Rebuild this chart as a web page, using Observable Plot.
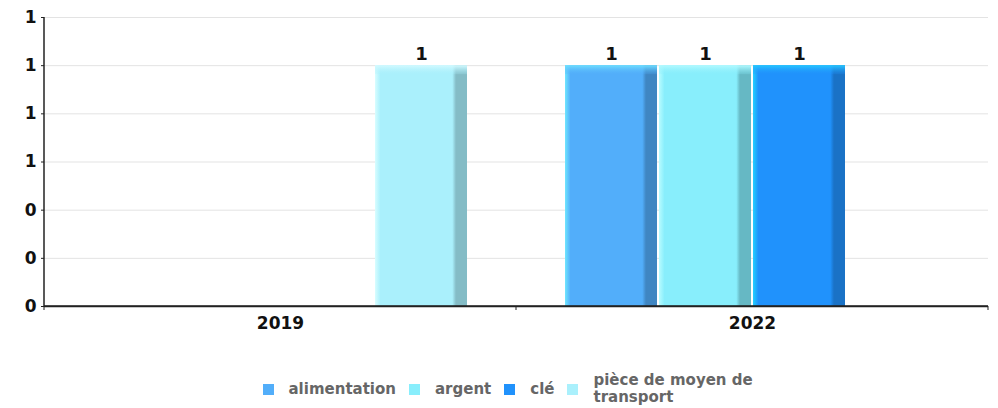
<!DOCTYPE html>
<html>
<head>
<meta charset="utf-8">
<script src="https://cdn.jsdelivr.net/npm/d3@7"></script>
<script src="https://cdn.jsdelivr.net/npm/@observablehq/plot@0.6"></script>
<style>
  html, body { margin: 0; padding: 0; background: #fff; font-family: "DejaVu Sans", sans-serif; }
  #legend { display: flex; justify-content: center; align-items: center; margin-top: 27px; padding-left: 28px; gap: 13px; }
  .item { display: flex; align-items: center; gap: 15px; }
  .sw { width: 11px; height: 11px; flex: none; }
  .lab { font-weight: bold; font-size: 15px; color: #666; line-height: 17px; }
</style>
</head>
<body>
<div id="chart"></div>
<div id="legend"></div>
<script>
const years = ["2019", "2022"];
const series = ["alimentation", "argent", "clé", "pièce de moyen de transport"];
const colors = ["#52aefa", "#88eefc", "#2092fc", "#aaf0fc"];
const edgeLight = ["#6fe6ff", "#b8fcff", "#22d0ff", "#d8fdff"];
const edgeDark = ["#3f86c2", "#66b8c4", "#1a72c6", "#84bcc6"];
const topColors = ["#6fe0ff", "#b5faff", "#25c8ff", "#d5faff"];
const values2019 = [0, 0, 0, 1];
const values2022 = [1, 1, 1, 0];
const yTicks = [0, 0.2, 0.4, 0.6, 0.8, 1, 1.2];

const rows = [];
[values2019, values2022].forEach((vals, yi) => {
  vals.forEach((v, si) => { if (v) rows.push({year: years[yi], series: series[si], value: v}); });
});
const idx = d => series.indexOf(d.series);

const chart = Plot.plot({
  width: 998,
  height: 345,
  marginLeft: 43,
  marginRight: 10,
  marginTop: 17,
  marginBottom: 39,
  style: {fontFamily: "DejaVu Sans, sans-serif", background: "#fff"},
  fx: {domain: years, padding: 0, label: null},
  x: {domain: series, paddingInner: 0.02, paddingOuter: 0.5, axis: null},
  y: {domain: [0, 1.2], axis: null},
  marks: [
    Plot.gridY(yTicks, {stroke: "#e3e3e3", strokeOpacity: 1, strokeWidth: 1}),
    Plot.barY(rows, {fx: "year", x: "series", y: "value", fill: d => `url(#g${idx(d)})`}),
    Plot.barY(rows, {fx: "year", x: "series", y1: "value", y2: "value", insetBottom: -9, fill: d => `url(#t${idx(d)})`}),
    Plot.text(rows, {fx: "year", x: "series", y: "value", text: d => d3.format(".0f")(d.value), dy: -11, fontWeight: "bold", fontSize: 18, fill: "#111"}),
    Plot.ruleY([0], {stroke: "#222", strokeWidth: 1.5}),
    Plot.axisY(yTicks, {tickFormat: d3.format(".0f"), tickSize: 3, tickPadding: 5, fontWeight: "bold", fontSize: 17, fill: "#111", stroke: "#222", label: null}),
    Plot.axisFx({anchor: "bottom", tickSize: 0, tickPadding: 10, fontWeight: "bold", fontSize: 17, fill: "#111", label: null})
  ]
});

// gradient definitions for 3D-like bars
const svg = d3.select(chart.tagName.toLowerCase() === "svg" ? chart : chart.querySelector("svg"));
const defs = svg.insert("defs", ":first-child");
series.forEach((s, i) => {
  const g = defs.append("linearGradient").attr("id", `g${i}`).attr("x1", 0).attr("x2", 1).attr("y1", 0).attr("y2", 0);
  g.append("stop").attr("offset", "0%").attr("stop-color", edgeLight[i]);
  g.append("stop").attr("offset", "6%").attr("stop-color", colors[i]);
  g.append("stop").attr("offset", "84%").attr("stop-color", colors[i]);
  g.append("stop").attr("offset", "88%").attr("stop-color", edgeDark[i]);
  g.append("stop").attr("offset", "100%").attr("stop-color", edgeDark[i]);
  const t = defs.append("linearGradient").attr("id", `t${i}`).attr("x1", 0).attr("x2", 0).attr("y1", 0).attr("y2", 1);
  t.append("stop").attr("offset", "0%").attr("stop-color", topColors[i]).attr("stop-opacity", 1);
  t.append("stop").attr("offset", "100%").attr("stop-color", colors[i]).attr("stop-opacity", 0.2);
});

// axis line and group boundary ticks, from the chart's own scales
const fx = chart.scale("fx");
const ys = chart.scale("y");
const x0 = fx.apply(years[0]);
const bounds = years.map(y => fx.apply(y)).concat([fx.apply(years[years.length - 1]) + fx.bandwidth]);
const yTop = ys.apply(1.2), yBot = ys.apply(0);
svg.append("line").attr("x1", x0).attr("x2", x0).attr("y1", yTop).attr("y2", yBot + 0.75).attr("stroke", "#222").attr("stroke-width", 1.5);
svg.append("line").attr("x1", x0).attr("x2", bounds[bounds.length - 1]).attr("y1", yBot).attr("y2", yBot).attr("stroke", "#222").attr("stroke-width", 1.5);
bounds.forEach(b => {
  svg.append("line").attr("x1", b).attr("x2", b).attr("y1", yBot).attr("y2", yBot + 4).attr("stroke", "#222").attr("stroke-width", 1);
});

document.getElementById("chart").appendChild(chart);

// legend
const legend = d3.select("#legend");
series.forEach((s, i) => {
  const it = legend.append("div").attr("class", "item");
  it.append("div").attr("class", "sw").style("background", colors[i]);
  const l = it.append("div").attr("class", "lab").text(s);
  if (i === series.length - 1) l.style("max-width", "170px");
});
</script>
</body>
</html>
